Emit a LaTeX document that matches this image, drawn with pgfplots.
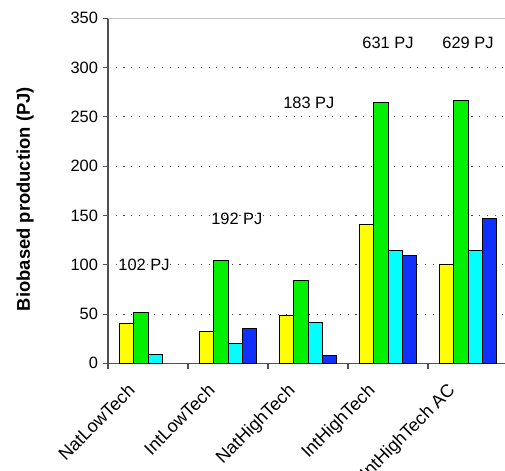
\documentclass[border=0pt]{standalone}
\usepackage{pgfplots}
\pgfplotsset{compat=1.18}
\usepackage{fontspec}
\setmainfont{Liberation Sans}
\definecolor{cyel}{RGB}{255,255,0}
\definecolor{cgrn}{RGB}{0,240,0}
\definecolor{ccyn}{RGB}{0,255,255}
\definecolor{cblu}{RGB}{16,48,255}
\definecolor{axgray}{RGB}{80,80,92}
\begin{document}
\begin{tikzpicture}
\path[use as bounding box] (-81pt,-80pt) rectangle (297.75pt,272.5pt);
\begin{axis}[
  at={(0pt,0pt)}, anchor=south west,
  scale only axis, width=300pt, height=258.75pt,
  xmin=-0.5, xmax=4.5, ymin=0, ymax=350,
  axis lines*=left,
  axis line style={color=axgray, line width=1.1pt},
  every tick/.style={color=axgray, line width=0.8pt},
  tick align=outside,
  major tick length=4pt,
  ytick={0,50,...,300},
  extra y ticks={350},
  extra y tick style={grid style={color=gray!45, line width=0.8pt, solid}},
  xtick={-0.5,0.5,...,4.5},
  xticklabels={,,,,,},
  extra x ticks={0,1,2,3,4},
  extra x tick labels={NatLowTech,IntLowTech,NatHighTech,IntHighTech,IntHighTech AC},
  extra x tick style={major tick length=0pt, tick label style={xshift=-16pt, yshift=-9.3pt, rotate=45, anchor=north east, font=\fontsize{13.5}{15}\selectfont}},
  ymajorgrids,
  grid style={color=gray!60!black, line width=0.8pt, dash pattern=on 0.8pt off 5pt},
  tick label style={font=\fontsize{12.3}{14}\selectfont},
  /pgf/number format/assume math mode=true,
  ylabel={Biobased production (PJ)},
  every axis y label/.style={at={(axis description cs:-0.2075,0.476)}, rotate=90, anchor=center, font=\fontsize{13.8}{15}\selectfont\bfseries},
  bar width=0.18,
  every axis plot/.append style={draw=black, line width=0.7pt},
]
\addplot[ybar, fill=cyel, bar shift=-0.27] coordinates {(0,40) (1,32) (2,49) (3,141) (4,100)};
\addplot[ybar, fill=cgrn, bar shift=-0.09] coordinates {(0,52) (1,104) (2,84) (3,265) (4,267)};
\addplot[ybar, fill=ccyn, bar shift=0.09] coordinates {(0,9) (1,20) (2,41) (3,114) (4,114)};
\addplot[ybar, fill=cblu, bar shift=0.27] coordinates {(1,35) (2,8) (3,109) (4,147)};
\node[font=\fontsize{12.3}{14}\selectfont] at (axis cs:-0.05,100) {102 PJ};
\node[font=\fontsize{12.3}{14}\selectfont] at (axis cs:1.11,147) {192 PJ};
\node[font=\fontsize{12.3}{14}\selectfont] at (axis cs:2.01,264) {183 PJ};
\node[font=\fontsize{12.3}{14}\selectfont] at (axis cs:3.0,325) {631 PJ};
\node[font=\fontsize{12.3}{14}\selectfont] at (axis cs:4.0,325) {629 PJ};
\end{axis}
\end{tikzpicture}
\end{document}
